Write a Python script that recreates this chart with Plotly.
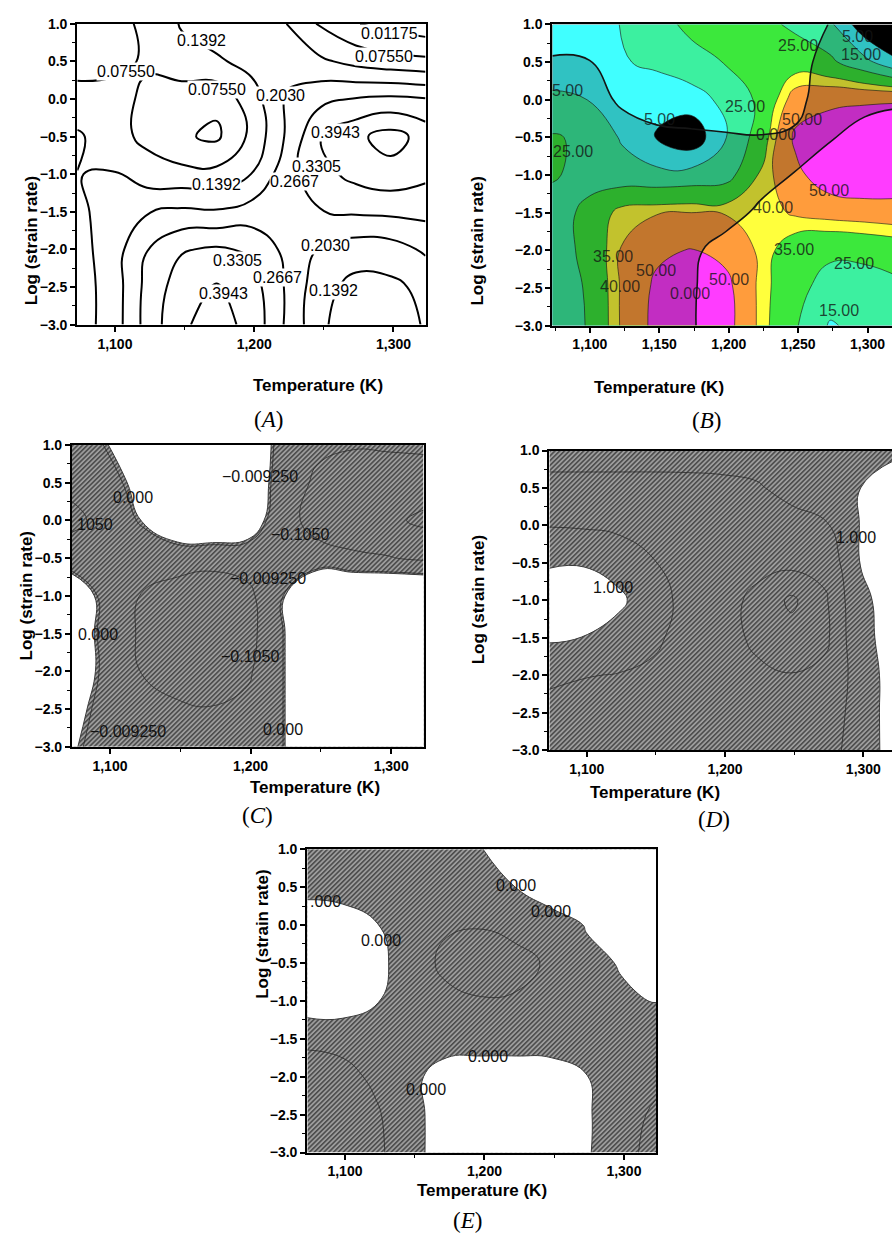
import base64
import plotly.graph_objects as go

W, H = 892, 1255

# ---------------- data ----------------
TEMP_K = [1073, 1098, 1123, 1148, 1173, 1198, 1223, 1248, 1273, 1298, 1323]
LOG_SR = [-3.0, -2.5, -2.0, -1.5, -1.0, -0.5, 0.0, 0.5, 1.0]
X_TICKS = [1100, 1200, 1300]
X_TICKS_B = [1100, 1150, 1200, 1250, 1300]
Y_TICKS = [-3.0, -2.5, -2.0, -1.5, -1.0, -0.5, 0.0, 0.5, 1.0]

# (A) efficiency map, rows follow LOG_SR
ETA_A = [
    [0.110, 0.165, 0.290, 0.385, 0.420, 0.375, 0.258, 0.150, 0.100, 0.105, 0.145],
    [0.110, 0.165, 0.285, 0.365, 0.400, 0.360, 0.260, 0.160, 0.120, 0.125, 0.155],
    [0.115, 0.170, 0.265, 0.325, 0.340, 0.320, 0.250, 0.195, 0.170, 0.175, 0.213],
    [0.120, 0.175, 0.200, 0.215, 0.210, 0.230, 0.245, 0.265, 0.275, 0.280, 0.285],
    [0.138, 0.145, 0.105, 0.095, 0.095, 0.140, 0.240, 0.310, 0.350, 0.370, 0.345],
    [0.150, 0.100, 0.060, 0.020, 0.000, 0.090, 0.210, 0.330, 0.380, 0.420, 0.370],
    [0.090, 0.090, 0.068, 0.040, 0.028, 0.110, 0.210, 0.250, 0.270, 0.280, 0.270],
    [0.060, 0.065, 0.080, 0.115, 0.130, 0.160, 0.180, 0.150, 0.120, 0.100, 0.090],
    [0.040, 0.060, 0.085, 0.145, 0.175, 0.180, 0.140, 0.065, 0.015, -0.010, -0.030],
]
ETA_A_LEVELS = dict(start=0.01175, end=0.395, size=0.06375)

# (B) efficiency (%) with instability parameter
PCT_B = [
    [17, 25.5, 41, 53, 58, 54, 38, 26, 14, 18, 22],
    [18, 26, 41, 52, 57, 53, 38, 28, 21, 20, 23],
    [19, 28, 40.5, 48, 50.5, 47, 38.5, 30, 27, 28, 30],
    [21, 27, 38, 39.5, 40, 39.5, 37, 41, 43, 44, 45],
    [26, 22, 19, 18, 19, 21, 36, 47, 57, 60, 58],
    [26, 23, 14, 4.5, -2, 14.8, 30, 52, 58, 62, 60],
    [16, 15, 11, 7, 10, 18, 27, 44, 47, 48, 49],
    [12, 11.5, 14, 17.5, 22, 25.5, 30, 31, 27, 18, 6],
    [10, 12.5, 15.2, 22, 27, 29, 28, 23, 17, -2, -10],
]
PCT_B_LEVELS = [5, 15, 25, 35, 40, 50]
XI_B = [
    [-0.5, -0.5, -0.5, -0.35, -0.04, 0.25, 0.4, 0.5, 0.5, 0.5, 0.5],
    [-0.5, -0.5, -0.5, -0.35, -0.05, 0.25, 0.4, 0.5, 0.5, 0.5, 0.5],
    [-0.5, -0.5, -0.5, -0.4, -0.1, 0.2, 0.4, 0.5, 0.5, 0.5, 0.5],
    [-0.5, -0.5, -0.5, -0.45, -0.35, -0.2, 0.1, 0.3, 0.5, 0.5, 0.5],
    [-0.5, -0.5, -0.5, -0.4, -0.35, -0.3, -0.2, 0.01, 0.3, 0.5, 0.5],
    [-0.5, -0.5, -0.3, -0.2, -0.15, -0.08, -0.03, -0.05, -0.05, 0.3, 0.5],
    [-0.4, -0.3, 0.1, 0.4, 0.5, 0.5, 0.4, 0.1, -0.2, -0.25, -0.15],
    [-0.1, -0.05, 0.3, 0.5, 0.5, 0.5, 0.5, 0.2, -0.2, -0.4, -0.5],
    [0.5, 0.5, 0.5, 0.5, 0.5, 0.5, 0.5, 0.3, -0.02, -0.3, -0.5],
]

# (C) instability criterion
XI_C = [
    [0.01, -0.05, -0.05, -0.06, -0.07, -0.05, -0.01, 0.15, 0.15, 0.15, 0.15],
    [0.03, -0.04, -0.06, -0.09, -0.10, -0.08, -0.01, 0.15, 0.15, 0.15, 0.15],
    [0.06, -0.03, -0.11, -0.15, -0.16, -0.12, -0.01, 0.15, 0.15, 0.15, 0.15],
    [0.07, -0.04, -0.12, -0.16, -0.18, -0.14, -0.01, 0.15, 0.15, 0.15, 0.15],
    [0.07, -0.04, -0.11, -0.15, -0.17, -0.13, -0.01, 0.15, 0.15, 0.15, 0.15],
    [-0.05, -0.08, -0.07, -0.06, -0.07, -0.06, -0.07, -0.07, -0.09, -0.10, -0.12],
    [-0.13, -0.07, 0.003, 0.08, 0.10, 0.06, -0.07, -0.14, -0.16, -0.18, -0.22],
    [-0.08, -0.04, 0.03, 0.12, 0.14, 0.09, -0.06, -0.12, -0.14, -0.15, -0.15],
    [-0.06, -0.003, 0.08, 0.12, 0.13, 0.08, -0.04, -0.09, -0.10, -0.095, -0.09],
]
XI_C_LEVELS = dict(start=-0.20075, end=-0.00925, size=0.09575)

# (D) criterion
CRIT_D = [
    [0.25, 0.28, 0.30, 0.30, 0.30, 0.28, 0.25, 0.25, 0.30, 0.75, 1.20],
    [0.30, 0.30, 0.32, 0.32, 0.30, 0.25, 0.20, 0.20, 0.25, 0.70, 1.25],
    [0.62, 0.52, 0.48, 0.45, 0.38, 0.20, 0.10, 0.02, 0.15, 0.70, 1.25],
    [1.06, 0.99, 0.80, 0.55, 0.40, 0.20, -0.10, -0.30, -0.10, 0.93, 1.10],
    [1.30, 1.25, 1.10, 0.70, 0.35, 0.15, -0.10, -0.60, -0.05, 0.95, 1.10],
    [0.95, 0.97, 0.80, 0.52, 0.35, 0.22, 0.12, 0.15, 0.15, 1.01, 1.10],
    [0.48, 0.45, 0.40, 0.35, 0.32, 0.30, 0.32, 0.36, 0.45, 1.02, 1.15],
    [0.35, 0.35, 0.35, 0.35, 0.36, 0.40, 0.46, 0.62, 0.80, 1.00, 1.15],
    [0.70, 0.70, 0.70, 0.70, 0.70, 0.68, 0.68, 0.70, 0.78, 0.88, 0.95],
]
CRIT_D_LEVELS = dict(start=-0.5, end=0.5, size=0.5)

# (E) criterion
XI_E = [
    [-0.22, -0.19, -0.12, -0.03, 0.05, 0.07, 0.07, 0.06, 0.01, -0.06, -0.14],
    [-0.20, -0.17, -0.11, -0.03, 0.05, 0.07, 0.07, 0.06, 0.01, -0.05, -0.12],
    [-0.16, -0.13, -0.08, -0.02, 0.04, 0.06, 0.06, 0.05, 0.003, -0.05, -0.07],
    [-0.075, -0.07, -0.06, -0.05, -0.04, -0.05, -0.05, -0.05, -0.04, -0.05, -0.06],
    [0.06, 0.06, 0.005, -0.05, -0.08, -0.095, -0.09, -0.06, -0.03, -0.01, 0.003],
    [0.08, 0.07, 0.03, -0.06, -0.12, -0.14, -0.13, -0.085, -0.02, 0.005, 0.06],
    [0.06, 0.05, 0.003, -0.06, -0.09, -0.095, -0.07, -0.047, 0.005, 0.05, 0.08],
    [-0.03, -0.04, -0.05, -0.06, -0.06, -0.04, 0.002, 0.06, 0.10, 0.12, 0.14],
    [-0.05, -0.05, -0.05, -0.05, -0.04, -0.002, 0.05, 0.10, 0.12, 0.13, 0.14],
]
XI_E_LEVELS = dict(start=-0.1, end=-0.1, size=0.1)

# contour label texts (values of the labelled levels) and where they sit
A_LABELS = [("0.1392", 1162, 0.78), ("0.01175", 1297, 0.87), ("0.07550", 1293, 0.56),
            ("0.07550", 1108, 0.36), ("0.07550", 1173, 0.125), ("0.2030", 1219, 0.05),
            ("0.3943", 1258.5, -0.45), ("0.3305", 1245, -0.90), ("0.1392", 1173, -1.14),
            ("0.2667", 1228.6, -1.10), ("0.2030", 1251, -1.95), ("0.3305", 1188, -2.15),
            ("0.2667", 1217, -2.37), ("0.3943", 1178, -2.59), ("0.1392", 1257, -2.54)]
B_LABELS = [("25.00", 1250, 0.72), ("5.00", 1293, 0.834), ("15.00", 1295, 0.607),
            ("5.00", 1084, 0.127), ("25.00", 1212, -0.083), ("5.00", 1150, -0.267),
            ("50.00", 1253, -0.267), ("0.000", 1234, -0.464), ("25.00", 1088, -0.683),
            ("50.00", 1272.5, -1.207), ("40.00", 1232, -1.434), ("35.00", 1117, -2.08),
            ("35.00", 1247, -1.994), ("25.00", 1290.5, -2.18), ("50.00", 1147.5, -2.27),
            ("40.00", 1121.6, -2.475), ("50.00", 1200, -2.39), ("0.000", 1172.4, -2.575),
            ("15.00", 1279.7, -2.794)]
C_LABELS = [("\u22120.009250", 1206.7, 0.577), ("0.000", 1116.6, 0.302), ("1050", 1089, -0.055),
            ("\u22120.1050", 1235.2, -0.186), ("\u22120.009250", 1212.7, -0.775),
            ("0.000", 1091.3, -1.517), ("\u22120.1050", 1199.6, -1.80),
            ("\u22120.009250", 1113, -2.80), ("0.000", 1223.3, -2.77)]
D_LABELS = [("1.000", 1119.2, -0.825), ("1.000", 1294.7, -0.156)]
E_LABELS = [(".000", 1085.7, 0.31), ("0.000", 1222.6, 0.514), ("0.000", 1247.5, 0.176),
            ("0.000", 1125.8, -0.21), ("0.000", 1202.8, -1.74), ("0.000", 1158.1, -2.17)]

# ---------------- layout geometry (pixels) ----------------
BOX = {
    'A': dict(l=77.3, r=425.5, t=16.0, b=320.7, xmax=1323, n=1),
    'B': dict(l=552.4, r=892.0, t=16.7, b=321.7, xmax=1317.6, n=2),
    'C': dict(l=72.0, r=423.5, t=442.7, b=748.3, xmax=1323, n=3),
    'D': dict(l=549.4, r=892.0, t=448.3, b=751.7, xmax=1320.7, n=4),
    'E': dict(l=307.3, r=656.0, t=852.0, b=1159.3, xmax=1323, n=5),
}
TITLE_Y = {'A': 371, 'B': 373, 'C': 790, 'D': 795, 'E': 1209}
YTITLE_X = {'A': 20, 'B': 478, 'C': 15, 'D': 478, 'E': 251}
PANEL_POS = {'A': (252, 402), 'B': (723, 403), 'C': (240, 818), 'D': (732, 822), 'E': (467, 1243)}

SANS = "Liberation Sans, Arial, sans-serif"
SERIF = "Liberation Serif, Times New Roman, serif"

fig = go.Figure()
layout = dict(width=W, height=H, margin=dict(l=0, r=0, t=0, b=0),
              paper_bgcolor='white', plot_bgcolor='white', showlegend=False)
annotations = []
images = []


def refs(key):
    n = BOX[key]['n']
    s = '' if n == 1 else str(n)
    return 'x' + s, 'y' + s


for key, b in BOX.items():
    xr, yr = refs(key)
    full = b['r'] < W - 1
    xt = X_TICKS_B if key == 'B' else X_TICKS
    minor_x = [1075, 1125, 1175, 1225, 1275, 1325] if key == 'B' else [1150, 1250]
    xa = dict(domain=[b['l'] / W, b['r'] / W], range=[1073, b['xmax']], anchor=yr,
              tickvals=xt, ticktext=[f"{v:,}" for v in xt], ticks='outside', ticklen=5,
              tickwidth=1.5, tickcolor='black', showline=True, linewidth=2.2,
              linecolor='black', mirror=True, showgrid=False, zeroline=False,
              tickfont=dict(family=SANS, size=14, color='black', weight='bold'),
              minor=dict(tickvals=minor_x, ticks='outside', ticklen=3, tickwidth=1.2,
                         tickcolor='black', showgrid=False))
    ya = dict(domain=[1 - b['b'] / H, 1 - b['t'] / H], range=[-3, 1], anchor=xr,
              tickvals=Y_TICKS, tickformat='.1f', ticks='outside', ticklen=5,
              tickwidth=1.5, tickcolor='black', showline=True, linewidth=2.2,
              linecolor='black', mirror=full, showgrid=False, zeroline=False,
              tickfont=dict(family=SANS, size=14, color='black', weight='bold'),
              minor=dict(tickvals=[v + 0.25 for v in Y_TICKS[:-1]], ticks='outside',
                         ticklen=3, tickwidth=1.2, tickcolor='black', showgrid=False))
    n = b['n']
    layout['xaxis' if n == 1 else f'xaxis{n}'] = xa
    layout['yaxis' if n == 1 else f'yaxis{n}'] = ya

    if full:
        cx = (b['l'] + b['r']) / 2
    else:
        cx = b['l'] + 125 * (b['r'] - b['l']) / (b['xmax'] - 1073)
    annotations.append(dict(text="Temperature (K)", xref='paper', yref='paper',
                            x=cx / W, y=1 - TITLE_Y[key] / H, showarrow=False,
                            font=dict(family=SANS, size=17, color='black', weight='bold')))
    annotations.append(dict(text="Log (strain rate)", xref='paper', yref='paper',
                            x=YTITLE_X[key] / W, y=1 - (b['t'] + b['b']) / 2 / H, textangle=-90,
                            showarrow=False,
                            font=dict(family=SANS, size=17, color='black', weight='bold')))
    px, py = PANEL_POS[key]
    annotations.append(dict(text=f"(<i>{key}</i>)", xref='paper', yref='paper',
                            x=px / W, y=1 - py / H, showarrow=False,
                            font=dict(family=SERIF, size=23, color='black')))


def hatch_uri(wpx, hpx):
    svg = (f"<svg xmlns='http://www.w3.org/2000/svg' width='{wpx}' height='{hpx}' "
           f"viewBox='0 0 {wpx} {hpx}' preserveAspectRatio='none'>"
           "<defs><pattern id='h' width='3.4' height='3.4' patternUnits='userSpaceOnUse' "
           "patternTransform='rotate(45)'><rect width='3.4' height='3.4' fill='#9c9c9c'/>"
           "<line x1='0.8' y1='0' x2='0.8' y2='3.4' stroke='#404040' stroke-width='1.4'/>"
           "</pattern></defs><rect width='100%' height='100%' fill='url(#h)'/></svg>")
    return "data:image/svg+xml;base64," + base64.b64encode(svg.encode()).decode()


CLEAR = 'rgba(0,0,0,0)'

# ---- A ----
xr, yr = refs('A')
fig.add_trace(go.Contour(x=TEMP_K, y=LOG_SR, z=ETA_A, xaxis=xr, yaxis=yr,
                         autocontour=False, contours=dict(coloring='none', **ETA_A_LEVELS),
                         line=dict(color='black', width=2, smoothing=1.3),
                         showscale=False, hoverinfo='skip'))
for t, x, y in A_LABELS:
    annotations.append(dict(text=t, x=x, y=y, xref=xr, yref=yr, showarrow=False,
                            bgcolor='white', borderpad=0,
                            font=dict(family=SANS, size=16, color='black')))

# ---- B ----
xr, yr = refs('B')
B_COLORS = ['#40ffff', '#3cf0a0', '#3ce83c', '#ffff3c', '#ff9c3c', '#ff3cff']
for i, (lev, col) in enumerate(zip(PCT_B_LEVELS, B_COLORS)):
    below = '#000000' if i == 0 else CLEAR
    fig.add_trace(go.Contour(x=TEMP_K, y=LOG_SR, z=PCT_B, xaxis=xr, yaxis=yr,
                             autocontour=False,
                             contours=dict(coloring='fill', start=lev, end=lev, size=1),
                             colorscale=[[0, below], [1, col]],
                             line=dict(color='rgba(30,30,30,0.8)', width=0.8, smoothing=1.3),
                             showscale=False, hoverinfo='skip'))
# unstable domain (xi < 0) darkened: plot -xi so that the filled "above" side is xi < 0
neg_xi_b = [[-v for v in row] for row in XI_B]
fig.add_trace(go.Contour(x=TEMP_K, y=LOG_SR, z=neg_xi_b, xaxis=xr, yaxis=yr,
                         autocontour=False,
                         contours=dict(coloring='fill', start=0, end=0, size=1),
                         colorscale=[[0, CLEAR], [1, 'rgba(0,0,0,0.24)']],
                         line=dict(color='#151515', width=1.6, smoothing=1.3),
                         showscale=False, hoverinfo='skip'))
for t, x, y in B_LABELS:
    annotations.append(dict(text=t, x=x, y=y, xref=xr, yref=yr, showarrow=False,
                            font=dict(family=SANS, size=16, color='rgba(20,20,20,0.8)')))


# ---- C, D, E (hatched unstable domains) ----
def hatched(key, z, thr, levels, labels):
    xr, yr = refs(key)
    b = BOX[key]
    wpx, hpx = round(min(b['r'], W) - b['l']), round(b['b'] - b['t'])
    images.append(dict(source=hatch_uri(wpx, hpx), xref=xr + ' domain', yref=yr + ' domain',
                       x=0, y=1, sizex=1, sizey=1, xanchor='left', yanchor='top',
                       sizing='stretch', layer='below'))
    fig.add_trace(go.Contour(x=TEMP_K, y=LOG_SR, z=z, xaxis=xr, yaxis=yr,
                             autocontour=False,
                             contours=dict(coloring='fill', start=thr, end=thr, size=1),
                             colorscale=[[0, CLEAR], [1, 'white']],
                             line=dict(color='#3a3a3a', width=1.0, smoothing=1.3),
                             showscale=False, hoverinfo='skip'))
    fig.add_trace(go.Contour(x=TEMP_K, y=LOG_SR, z=z, xaxis=xr, yaxis=yr,
                             autocontour=False, contours=dict(coloring='none', **levels),
                             line=dict(color='#2a2a2a', width=0.8, smoothing=1.3),
                             showscale=False, hoverinfo='skip'))
    for t, x, y in labels:
        annotations.append(dict(text=t, x=x, y=y, xref=xr, yref=yr, showarrow=False,
                                font=dict(family=SANS, size=16, color='#111111')))


hatched('C', XI_C, 0.0, XI_C_LEVELS, C_LABELS)
hatched('D', CRIT_D, 1.0, CRIT_D_LEVELS, D_LABELS)
hatched('E', XI_E, 0.0, XI_E_LEVELS, E_LABELS)

layout['annotations'] = annotations
layout['images'] = images
fig.update_layout(**layout)
fig.write_html("out.html")
